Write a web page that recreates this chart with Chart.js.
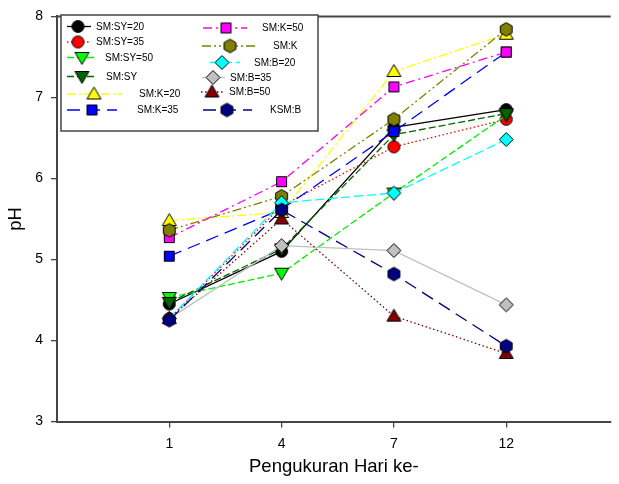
<!DOCTYPE html>
<html>
<head>
<meta charset="utf-8">
<script src="https://cdn.jsdelivr.net/npm/chart.js@4.4.1/dist/chart.umd.min.js"></script>
<style>
  html, body { margin: 0; padding: 0; background: #fff; overflow: hidden; }
  canvas { display: block; }
</style>
</head>
<body>
<canvas id="c" width="619" height="484"></canvas>
<script>
// Measurement days (x-axis tick labels)
const dayLabels = ['1', '4', '7', '12'];

// pH readings per treatment, one value per measurement day
const smSy20 = [4.45, 5.10, 6.63, 6.85];
const smSy35 = [4.27, 5.66, 6.39, 6.73];
const smSy50 = [4.53, 4.83, 5.82, 6.78];
const smSy   = [4.47, 5.13, 6.54, 6.80];
const smK20  = [5.48, 5.58, 7.32, 7.78];
const smK35  = [5.04, 5.62, 6.58, 7.56];
const smK50  = [5.27, 5.96, 7.13, 7.56];
const smK    = [5.36, 5.78, 6.73, 7.84];
const smB20  = [4.27, 5.70, 5.82, 6.48];
const smB35  = [4.27, 5.17, 5.11, 4.44];
const smB50  = [4.27, 5.50, 4.30, 3.84];
const ksmB   = [4.25, 5.61, 4.82, 3.93];

const seriesNames = ['SM:SY=20', 'SM:SY=35', 'SM:SY=50', 'SM:SY', 'SM:K=20', 'SM:K=35',
                     'SM:K=50', 'SM:K', 'SM:B=20', 'SM:B=35', 'SM:B=50', 'KSM:B'];
const seriesValues = [smSy20, smSy35, smSy50, smSy, smK20, smK35,
                      smK50, smK, smB20, smB35, smB50, ksmB];

// Line / marker styling per series
const seriesStyles = [
  { color: '#000000', fill: '#000000', shape: 'circle',  dash: [] },
  { color: '#ff0000', fill: '#ff0000', shape: 'circle',  dash: [1.5, 2.5] },
  { color: '#00ee00', fill: '#00ff00', shape: 'triDown', dash: [7, 3] },
  { color: '#006400', fill: '#006400', shape: 'triDown', dash: [7, 3] },
  { color: '#ffff00', fill: '#ffff00', shape: 'triUp',   dash: [9, 3, 2, 3] },
  { color: '#0000ff', fill: '#0000ff', shape: 'square',  dash: [13, 7] },
  { color: '#ff00ff', fill: '#ff00ff', shape: 'square',  dash: [9, 4, 2, 4] },
  { color: '#808000', fill: '#808000', shape: 'hexagon', dash: [9, 3, 2, 3, 2, 3] },
  { color: '#00ffff', fill: '#00ffff', shape: 'diamond', dash: [9, 4] },
  { color: '#c0c0c0', fill: '#c0c0c0', shape: 'diamond', dash: [] },
  { color: '#800000', fill: '#800000', shape: 'triUp',   dash: [1.5, 2.5] },
  { color: '#000080', fill: '#000080', shape: 'hexagon', dash: [13, 7] }
];

// Legend entry placement: row y, line segment x1..x2, marker x, text x
const legendRows = [
  { y: 26.5, x1: 67,  x2: 91,  mx: 78,  tx: 96 },
  { y: 42,   x1: 67,  x2: 91,  mx: 78,  tx: 96 },
  { y: 57.5, x1: 67,  x2: 95,  mx: 82,  tx: 105 },
  { y: 76.5, x1: 67,  x2: 95,  mx: 82,  tx: 106 },
  { y: 94,   x1: 67,  x2: 122, mx: 94,  tx: 139 },
  { y: 110,  x1: 67,  x2: 117, mx: 92,  tx: 137 },
  { y: 28,   x1: 203, x2: 247, mx: 226, tx: 262 },
  { y: 46,   x1: 202, x2: 257, mx: 230, tx: 273 },
  { y: 62.5, x1: 210, x2: 240, mx: 222, tx: 254 },
  { y: 77.5, x1: 202, x2: 225, mx: 213, tx: 230 },
  { y: 92,   x1: 201, x2: 223, mx: 212, tx: 229 },
  { y: 110,  x1: 203, x2: 252, mx: 227, tx: 270 }
];

function makeMarker(shape, fill) {
  const s = 17, c = s / 2;
  const cv = document.createElement('canvas');
  cv.width = s; cv.height = s;
  const g = cv.getContext('2d');
  g.beginPath();
  if (shape === 'circle') {
    g.arc(c, c, 6, 0, Math.PI * 2);
  } else if (shape === 'square') {
    g.rect(c - 5, c - 5, 10, 10);
  } else if (shape === 'diamond') {
    g.moveTo(c, c - 7); g.lineTo(c + 7, c); g.lineTo(c, c + 7); g.lineTo(c - 7, c); g.closePath();
  } else if (shape === 'triUp') {
    g.moveTo(c, c - 7); g.lineTo(c + 7, c + 5); g.lineTo(c - 7, c + 5); g.closePath();
  } else if (shape === 'triDown') {
    g.moveTo(c, c + 7); g.lineTo(c + 7, c - 5); g.lineTo(c - 7, c - 5); g.closePath();
  } else if (shape === 'hexagon') {
    for (let i = 0; i < 6; i++) {
      const a = -Math.PI / 2 + i * Math.PI / 3;
      const px = c + 6.8 * Math.cos(a), py = c + 6.8 * Math.sin(a);
      if (i === 0) g.moveTo(px, py); else g.lineTo(px, py);
    }
    g.closePath();
  }
  g.fillStyle = fill;
  g.fill();
  g.lineWidth = 1;
  g.strokeStyle = '#000';
  g.stroke();
  return cv;
}

const markers = seriesStyles.map(st => makeMarker(st.shape, st.fill));

const datasets = seriesNames.map((name, i) => ({
  label: name,
  data: seriesValues[i].map((v, j) => ({ x: j + 1, y: v })),
  borderColor: seriesStyles[i].color,
  backgroundColor: seriesStyles[i].fill,
  borderDash: seriesStyles[i].dash,
  borderWidth: 1.3,
  tension: 0,
  fill: false,
  pointStyle: markers[i],
  pointRadius: 7,
  pointHoverRadius: 7,
  order: seriesNames.length - i
}));

const axisColor = '#454545';
const tickFont = { family: 'Arial, "Liberation Sans", sans-serif', size: 14 };
const titleFont = { family: 'Arial, "Liberation Sans", sans-serif', size: 18.5 };

// Frame line along the top of the plot area plus the in-plot legend box
const framePlugin = {
  id: 'frameAndLegend',
  afterDraw(chart) {
    const { ctx, chartArea } = chart;
    ctx.save();
    ctx.strokeStyle = axisColor;
    ctx.lineWidth = 2;
    ctx.beginPath();
    ctx.moveTo(chartArea.left - 1, chartArea.top);
    ctx.lineTo(chartArea.right, chartArea.top);
    ctx.stroke();

    // legend box
    ctx.fillStyle = '#ffffff';
    ctx.fillRect(61, 15, 257, 116);
    ctx.lineWidth = 1.5;
    ctx.strokeStyle = axisColor;
    ctx.strokeRect(61, 15, 257, 116);

    chart.data.datasets.forEach((ds, i) => {
      const r = legendRows[i];
      ctx.save();
      ctx.strokeStyle = ds.borderColor;
      ctx.lineWidth = 1.3;
      ctx.setLineDash(ds.borderDash);
      ctx.beginPath();
      ctx.moveTo(r.x1, r.y);
      ctx.lineTo(r.x2, r.y);
      ctx.stroke();
      ctx.restore();
      const m = markers[i];
      ctx.drawImage(m, r.mx - m.width / 2, r.y - m.height / 2);
      ctx.fillStyle = '#000';
      ctx.font = '10px Arial, "Liberation Sans", sans-serif';
      ctx.textAlign = 'left';
      ctx.textBaseline = 'middle';
      ctx.fillText(ds.label, r.tx, r.y + 0.5);
    });
    ctx.restore();
  }
};

new Chart(document.getElementById('c'), {
  type: 'line',
  data: { datasets },
  plugins: [framePlugin],
  options: {
    responsive: false,
    animation: false,
    devicePixelRatio: 1,
    layout: { padding: { top: 12.5, right: 0, bottom: 0, left: 0 } },
    plugins: { legend: { display: false }, tooltip: { enabled: false } },
    scales: {
      x: {
        type: 'linear',
        min: 0,
        max: 4.93,
        afterBuildTicks: s => { s.ticks = dayLabels.map((_, i) => ({ value: i + 1 })); },
        afterFit: s => { s.height = 62.5; },
        ticks: {
          callback: v => dayLabels[v - 1],
          font: tickFont,
          color: '#000',
          padding: 8,
          maxRotation: 0,
          autoSkip: false
        },
        grid: { drawOnChartArea: false, drawTicks: true, tickLength: 6, color: axisColor, lineWidth: 1.3 },
        border: { display: true, color: axisColor, width: 2 },
        title: { display: true, text: 'Pengukuran Hari ke-', font: titleFont, color: '#000', padding: { top: 0, bottom: 6 } }
      },
      y: {
        min: 3,
        max: 8,
        afterFit: s => { s.width = 57; },
        ticks: { stepSize: 1, font: tickFont, color: '#000', padding: 8 },
        grid: { drawOnChartArea: false, drawTicks: true, tickLength: 6, color: axisColor, lineWidth: 1.3 },
        border: { display: true, color: axisColor, width: 2 },
        title: { display: true, text: 'pH', font: titleFont, color: '#000', padding: { top: 5, bottom: 0 } }
      }
    }
  }
});
</script>
</body>
</html>
